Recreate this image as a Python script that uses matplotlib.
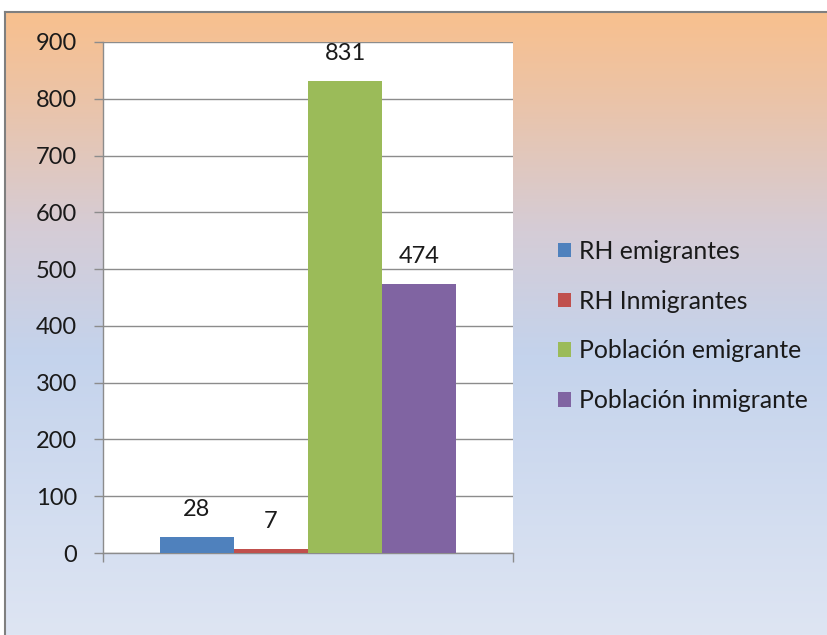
import numpy as np
import matplotlib.pyplot as plt
from matplotlib.colors import LinearSegmentedColormap
from matplotlib.lines import Line2D

# datos
series = ['RH emigrantes', 'RH Inmigrantes', 'Población emigrante', 'Población inmigrante']
values = [28, 7, 831, 474]
colors = ['#4F81BD', '#C0504D', '#9BBB59', '#8064A2']
yticks = [0, 100, 200, 300, 400, 500, 600, 700, 800, 900]

plt.rcParams['font.family'] = ['Lato', 'DejaVu Sans']

W, H = 828, 635
fig = plt.figure(figsize=(W / 100, H / 100), dpi=100)

# fondo degradado (naranja arriba, azul claro abajo)
bg = fig.add_axes([5 / W, 0, 1 - 5 / W, 1 - 12 / H], zorder=-10)
grad = LinearSegmentedColormap.from_list(
    'bg', [(0.0, '#F8C08E'), (0.12, '#EDC3A4'), (0.35, '#D5CCD6'),
           (0.55, '#C4D3EC'), (1.0, '#DEE5F3')])
bg.imshow(np.linspace(0, 1, 256).reshape(-1, 1), aspect='auto', cmap=grad,
          extent=[0, 1, 0, 1], origin='upper')
bg.set_axis_off()

# borde del gráfico
fig.add_artist(Line2D([5 / W, 1], [1 - 12 / H, 1 - 12 / H], color='#7F7F7F', lw=1.5))
fig.add_artist(Line2D([5 / W, 5 / W], [0, 1 - 12 / H], color='#7F7F7F', lw=1.5))

# área del gráfico
x0, x1, y0, y1 = 103, 513, 42, 553
ax = fig.add_axes([x0 / W, 1 - y1 / H, (x1 - x0) / W, (y1 - y0) / H])
ax.set_facecolor('white')

bw = 0.181
offsets = (np.arange(len(values)) - 1.5) * bw
for off, v, c, name in zip(offsets, values, colors, series):
    ax.bar(off, v, width=bw, color=c, label=name, zorder=3)
    ax.text(off, v + 48, str(v), ha='center', va='center', fontsize=17, color='#1A1A1A')

ax.set_xlim(-0.5, 0.5)
ax.set_ylim(0, 900)
ax.set_yticks(yticks)
ax.set_yticklabels([str(t) for t in yticks], fontsize=17, color='#1A1A1A')
ax.yaxis.grid(True, color='#8C8C8C', lw=1.0, zorder=0)
ax.set_axisbelow(True)
ax.tick_params(axis='y', length=6.5, color='#8C8C8C', width=1.0, pad=12)
ax.set_xticks([-0.5, 0.5])
ax.set_xticklabels(['', ''])
ax.tick_params(axis='x', length=6.5, color='#8C8C8C', width=1.0)
for s in ['top', 'right']:
    ax.spines[s].set_visible(False)
for s in ['left', 'bottom']:
    ax.spines[s].set_color('#8C8C8C')
    ax.spines[s].set_linewidth(1.0)

leg = fig.legend(loc='center left', bbox_to_anchor=(558 / W, 1 - 326 / H),
                 frameon=False, fontsize=17.8, borderpad=0, borderaxespad=0,
                 handlelength=0.53, handleheight=0.53,
                 handletextpad=0.33, labelspacing=1.08)
for t in leg.get_texts():
    t.set_color('#1A1A1A')

fig.savefig('out.png', dpi=100)
